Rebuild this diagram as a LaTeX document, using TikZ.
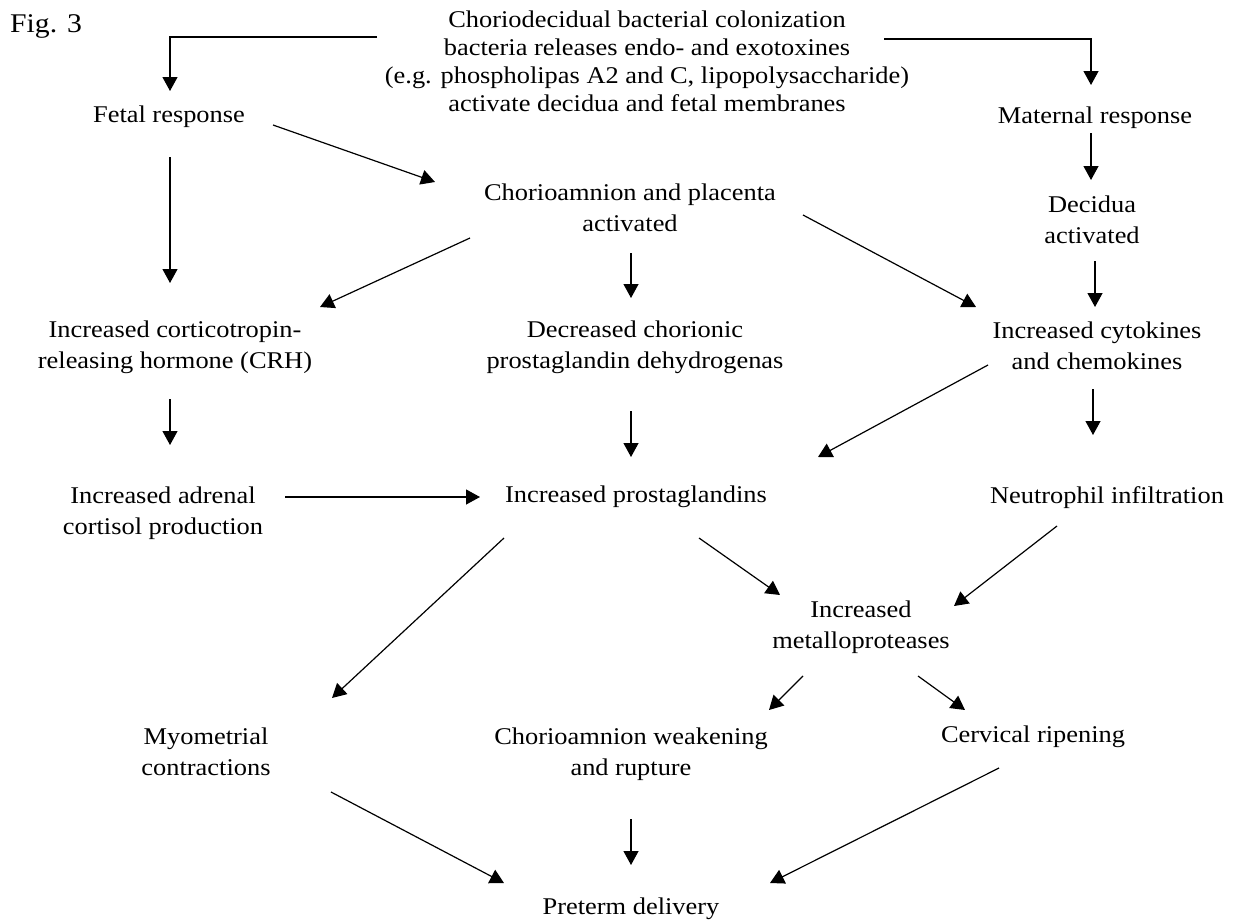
\documentclass[tikz,border=0pt]{standalone}
\usepackage{fontspec}
\setmainfont{Liberation Serif}[FakeStretch=1.1]
\usetikzlibrary{arrows.meta,calc}
\begin{document}
\begin{tikzpicture}[x=1pt,y=-1pt,
  lbl/.style={inner sep=0pt,anchor=base,align=center,font=\fontsize{24}{31}\selectfont},
  arr/.style={line width=1.2pt,-{Triangle[length=14pt,width=15pt]}}]
\path[use as bounding box,fill=white] (0,0) rectangle (1236,921);
\node[inner sep=0pt,anchor=base west,font=\fontsize{27}{31}\selectfont] (fig) at (10,32) {Fig. 3};
\node[lbl,font=\fontsize{24}{28}\selectfont] (top) at (647,111) {Choriodecidual bacterial colonization\\bacteria releases endo- and exotoxines\\(e.g. phospholipas A2 and C, lipopolysaccharide)\\activate decidua and fetal membranes};
\node[lbl] (fetal) at (169,122) {Fetal response};
\node[lbl] (maternal) at (1095,123) {Maternal response};
\node[lbl] (chorio) at (630,231) {Chorioamnion and placenta\\activated};
\node[lbl] (decidua) at (1092,243) {Decidua\\activated};
\node[lbl] (crh) at (175,368) {Increased corticotropin-\\releasing hormone (CRH)};
\node[lbl] (decr) at (635,368) {Decreased chorionic\\prostaglandin dehydrogenas};
\node[lbl] (cyto) at (1097,369) {Increased cytokines\\and chemokines};
\node[lbl] (adrenal) at (163,534) {Increased adrenal\\cortisol production};
\node[lbl] (pg) at (636,502) {Increased prostaglandins};
\node[lbl] (neut) at (1107,503) {Neutrophil infiltration};
\node[lbl] (metallo) at (861,648) {Increased\\metalloproteases};
\node[lbl] (myo) at (206,775) {Myometrial\\contractions};
\node[lbl] (weak) at (631,775) {Chorioamnion weakening\\and rupture};
\node[lbl] (cerv) at (1033,742) {Cervical ripening};
\node[lbl] (preterm) at (631,914) {Preterm delivery};

\draw[arr] ($(top.base)+(-270,-74)$) -| ($(fetal.base)+(1,-31)$);
\draw[arr] ($(top.base)+(237,-72)$) -| ($(maternal.base)+(-4,-38)$);
\draw[arr] ($(fetal.base)+(104,3)$) -- ($(chorio.base)+(-195,-49)$);
\draw[arr] ($(fetal.base)+(1,35)$) -- ($(crh.base)+(-5,-85)$);
\draw[arr] ($(maternal.base)+(-4,10)$) -- ($(decidua.base)+(-1,-63)$);
\draw[arr] ($(chorio.base)+(-160,7)$) -- ($(crh.base)+(145,-61)$);
\draw[arr] ($(chorio.base)+(1,22)$) -- ($(decr.base)+(-4,-70)$);
\draw[arr] ($(chorio.base)+(173,-16)$) -- ($(cyto.base)+(-121,-62)$);
\draw[arr] ($(decidua.base)+(3,18)$) -- ($(cyto.base)+(-2,-62)$);
\draw[arr] ($(crh.base)+(-5,31)$) -- ($(adrenal.base)+(7,-89)$);
\draw[arr] ($(decr.base)+(-4,43)$) -- ($(pg.base)+(-5,-45)$);
\draw[arr] ($(cyto.base)+(-109,-4)$) -- ($(pg.base)+(182,-45)$);
\draw[arr] ($(cyto.base)+(-4,20)$) -- ($(neut.base)+(-14,-68)$);
\draw[arr] ($(adrenal.base)+(122,-37)$) -- ($(pg.base)+(-156,-5)$);
\draw[arr] ($(pg.base)+(-132,36)$) -- ($(myo.base)+(126,-77)$);
\draw[arr] ($(pg.base)+(63,36)$) -- ($(metallo.base)+(-81,-53)$);
\draw[arr] ($(neut.base)+(-50,23)$) -- ($(metallo.base)+(93,-42)$);
\draw[arr] ($(metallo.base)+(-58,28)$) -- ($(weak.base)+(138,-65)$);
\draw[arr] ($(metallo.base)+(57,28)$) -- ($(cerv.base)+(-68,-32)$);
\draw[arr] ($(myo.base)+(125,17)$) -- ($(preterm.base)+(-127,-31)$);
\draw[arr] ($(weak.base)+(0,44)$) -- ($(preterm.base)+(0,-49)$);
\draw[arr] ($(cerv.base)+(-34,26)$) -- ($(preterm.base)+(139,-31)$);
\end{tikzpicture}
\end{document}
